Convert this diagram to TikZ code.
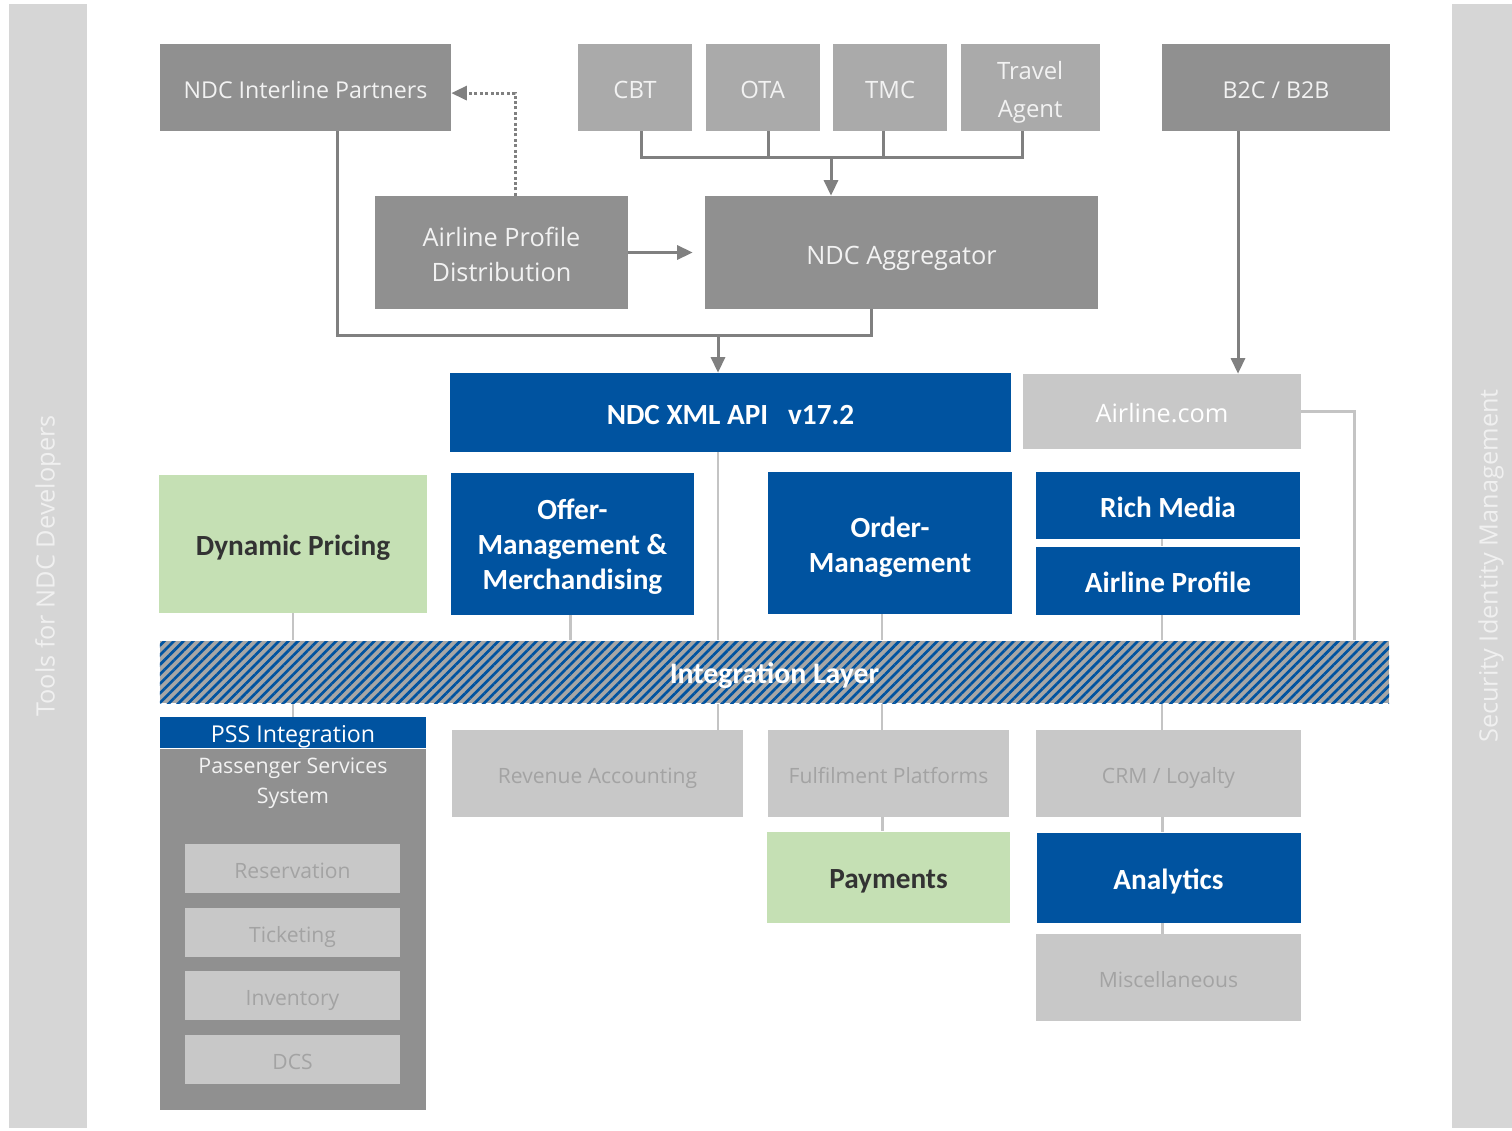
\documentclass[tikz,border=0pt]{standalone}
\usepackage{fontspec}
\setmainfont{Open Sans}
\newfontfamily\calfont{Carlito}
\usepackage{xcolor}
\usepackage{tikz}
\usetikzlibrary{positioning,arrows.meta,patterns.meta}

\definecolor{ndcblue}{HTML}{0053A0}
\definecolor{boxdark}{HTML}{909090}
\definecolor{boxmid}{HTML}{AAAAAA}
\definecolor{boxlight}{HTML}{C8C8C8}
\definecolor{boxgreen}{HTML}{C5E0B4}
\definecolor{barfill}{HTML}{D6D6D6}
\definecolor{bartext}{HTML}{F0F0F0}
\definecolor{hatchgray}{HTML}{A6A6A6}
\definecolor{linegray}{HTML}{808080}
\definecolor{lightline}{HTML}{C4C4C4}
\definecolor{softtext}{HTML}{A3A3A3}
\definecolor{boxtext}{HTML}{F2F2F2}
\definecolor{darktext}{HTML}{333333}

\begin{document}
\begin{tikzpicture}[
  x=0.25mm, y=-0.25mm,
  every node/.style={align=center, inner sep=0pt},
  greybox/.style={fill=boxdark, text=boxtext, font=\fontsize{18}{25.5}\selectfont},
  oneline/.style={text height=17pt, text depth=1pt},
  boldline/.style={text height=17pt, text depth=0.4pt},
  channel/.style={fill=boxmid, text=boxtext, font=\fontsize{17}{27}\selectfont,
                  minimum width=28.5mm, minimum height=21.75mm},
  module/.style={fill=ndcblue, text=white, font=\calfont\bfseries\fontsize{20.8}{25}\selectfont},
  extra/.style={fill=boxgreen, text=darktext, font=\calfont\bfseries\fontsize{20.8}{25}\selectfont},
  backend/.style={fill=boxlight, text=softtext, font=\fontsize{15}{20}\selectfont,
                  text height=15pt, text depth=0.7pt},
  sidebar/.style={fill=barfill, text=bartext, rotate=90, font=\fontsize{18}{22}\selectfont,
                  minimum width=281mm, minimum height=19.5mm},
  layer/.style={preaction={fill=hatchgray}, pattern={Lines[angle=45,distance=4.8pt,line width=1.9pt]},
                pattern color=ndcblue, text=white, font=\calfont\bfseries\fontsize{21.2}{24}\selectfont},
  link/.style={line width=0.75mm, draw=linegray},
  arrow/.style={link, -{Triangle[length=3.9mm,width=3.5mm]}},
  dotarrow/.style={arrow, dash pattern=on 0.75mm off 0.6mm},
  tie/.style={line width=0.7mm, draw=lightline},
]
\fill[white] (0,0) rectangle (1512,1130);
\useasboundingbox (0,0) rectangle (1512,1130);

% ===== side bars =====
\node[sidebar] (tools) at (48,566) {Tools for NDC Developers};
\node[sidebar] (security) at (1491,566) {Security Identity Management};

% ===== distribution =====
\node[greybox, oneline, font=\fontsize{16.5}{24}\selectfont, minimum width=72.75mm, minimum height=21.75mm] (nip) at (305.5,87.5) {NDC Interline Partners};
\node[channel, oneline] (cbt) at (635,87.5) {CBT};
\node[channel, oneline, right=3.25mm of cbt] (ota) {OTA};
\node[channel, oneline, right=3.25mm of ota] (tmc) {TMC};
\node[channel, right=3.25mm of tmc, minimum width=34.75mm] (agent) {\rule{0pt}{19.6pt}Travel\\Agent};
\node[greybox, oneline, font=\fontsize{16.5}{24}\selectfont, minimum width=57mm, minimum height=21.75mm] (b2c) at (1276,87.5) {B2C / B2B};

\node[greybox, minimum width=63.25mm, minimum height=28.25mm] (apd) at (501.5,252.5) {\rule{0pt}{16.6pt}Airline Profile\\Distribution};
\node[greybox, text height=18.6pt, text depth=1pt, minimum width=98.25mm, minimum height=28.25mm] (agg) at (901.5,252.5) {NDC Aggregator};

\coordinate (bus) at (831,157);
\coordinate (merge) at (718,335);

\draw[link] ([xshift=1.5mm]cbt.south) |- (bus) -| ([xshift=-2mm]agent.south);
\draw[link] ([xshift=1.5mm]ota.south) -- ([xshift=1.5mm]ota.south |- bus);
\draw[link] ([xshift=-1.75mm]tmc.south) -- ([xshift=-1.75mm]tmc.south |- bus);
\draw[arrow] (bus) -- (bus |- agg.north);
\draw[arrow] (apd.east) -- ([xshift=-3mm]agg.west);
\draw[dotarrow] ([xshift=3.4mm]apd.north) |- ([yshift=-1.4mm]nip.east);
\draw[link] ([xshift=8mm]nip.south) |- (merge) -| ([xshift=-7.6mm]agg.south);

% ===== airline =====
\node[module, boldline, minimum width=140.25mm, minimum height=19.75mm] (api) at (730.5,412.5) {NDC XML API \ \ v17.2};
\node[backend, text=white, font=\fontsize{18}{24}\selectfont, text height=17pt, text depth=1.2pt,
      minimum width=69.5mm, minimum height=18.75mm] (web) at (1162,411.5) {Airline.com};

\draw[arrow] (merge) -- (merge |- api.north);
\draw[arrow] ([xshift=-9.5mm]b2c.south) -- ([xshift=-9.5mm]b2c.south |- web.north);

\node[extra, boldline, minimum width=67mm, minimum height=34.5mm] (pricing) at (293,544) {Dynamic Pricing};
\node[module, minimum width=60.75mm, minimum height=35.5mm] (offer) at (572.5,544) {\rule{0pt}{18.8pt}Offer-\\Management \&\\Merchandising};
\node[module, minimum width=61mm, minimum height=35.5mm] (order) at (890,543) {\rule{0pt}{20.2pt}Order-\\Management};
\node[module, boldline, minimum width=66mm, minimum height=16.75mm] (media) at (1168,505.5) {Rich Media};
\node[module, boldline, minimum width=66mm, minimum height=17mm, below=1.75mm of media] (profile) {Airline Profile};

% ===== back end =====
\node[module, font=\fontsize{16.5}{20}\selectfont, text height=14pt, text depth=0pt,
      minimum width=66.5mm, minimum height=7.75mm] (pssint) at (293,732.5) {PSS Integration};
\node[fill=boxdark, minimum width=66.5mm, minimum height=90.25mm, below=0mm of pssint,
      label={[anchor=north, yshift=-2.2mm, text=boxtext, font=\fontsize{15.2}{21.5}\selectfont]north:Passenger Services\\System}] (pss) {};
\node[backend, minimum width=53.75mm, minimum height=12.25mm] (res) at (292.5,868.5) {Reservation};
\node[backend, minimum width=53.75mm, minimum height=12.25mm, below=3.5mm of res] (tick) {Ticketing};
\node[backend, minimum width=53.75mm, minimum height=12.25mm, below=3.5mm of tick] (inv) {Inventory};
\node[backend, minimum width=53.75mm, minimum height=12.25mm, below=3.5mm of inv] (dcs) {DCS};

\node[backend, minimum width=72.75mm, minimum height=21.75mm] (rev) at (597.5,773.5) {Revenue Accounting};
\node[backend, minimum width=60.25mm, minimum height=21.75mm] (fulfil) at (888.5,773.5) {Fulfilment Platforms};
\node[backend, minimum width=66.25mm, minimum height=21.75mm] (crm) at (1168.5,773.5) {CRM / Loyalty};
\node[extra, boldline, minimum width=60.75mm, minimum height=22.75mm, below=3.5mm of fulfil] (pay) {Payments};
\node[module, boldline, minimum width=66mm, minimum height=22.5mm, below=3.75mm of crm] (analytics) {Analytics};
\node[backend, minimum width=66.25mm, minimum height=21.75mm, below=2.75mm of analytics] (misc) {Miscellaneous};

% ===== integration layer =====
\node[layer, text height=17.3pt, text depth=0.4pt, minimum width=307.25mm, minimum height=15.5mm] (integ) at (774.5,672) {Integration Layer};

\draw[tie] (web.east) -| ([xshift=-9mm]integ.north east);
\draw[tie] (pricing.south) -- (pricing.south |- integ.north);
\draw[tie] ([xshift=-0.6mm]offer.south) -- ([xshift=-0.6mm]offer.south |- integ.north);
\draw[tie] (merge |- api.south) -- (merge |- integ.north);
\draw[tie] ([xshift=-2mm]order.south) -- ([xshift=-2mm]order.south |- integ.north);
\draw[tie] ([xshift=-1.5mm]media.south) -- ([xshift=-1.5mm]profile.north);
\draw[tie] ([xshift=-1.5mm]profile.south) -- ([xshift=-1.5mm]profile.south |- integ.north);
\draw[tie] (pricing.south |- integ.south) -- (pricing.south |- pssint.north);
\draw[tie] (merge |- integ.south) -- (merge |- rev.north);
\draw[tie] ([xshift=-2mm]order.south |- integ.south) -- ([xshift=-2mm]order.south |- fulfil.north);
\draw[tie] ([xshift=-1.5mm]profile.south |- integ.south) -- ([xshift=-1.5mm]profile.south |- crm.north);
\draw[tie] ([xshift=-1.6mm]fulfil.south) -- ([xshift=-1.6mm]fulfil.south |- pay.north);
\draw[tie] ([xshift=-1.6mm]crm.south) -- ([xshift=-1.6mm]crm.south |- analytics.north);
\draw[tie] ([xshift=-1.6mm]analytics.south) -- ([xshift=-1.6mm]analytics.south |- misc.north);
\end{tikzpicture}
\end{document}
